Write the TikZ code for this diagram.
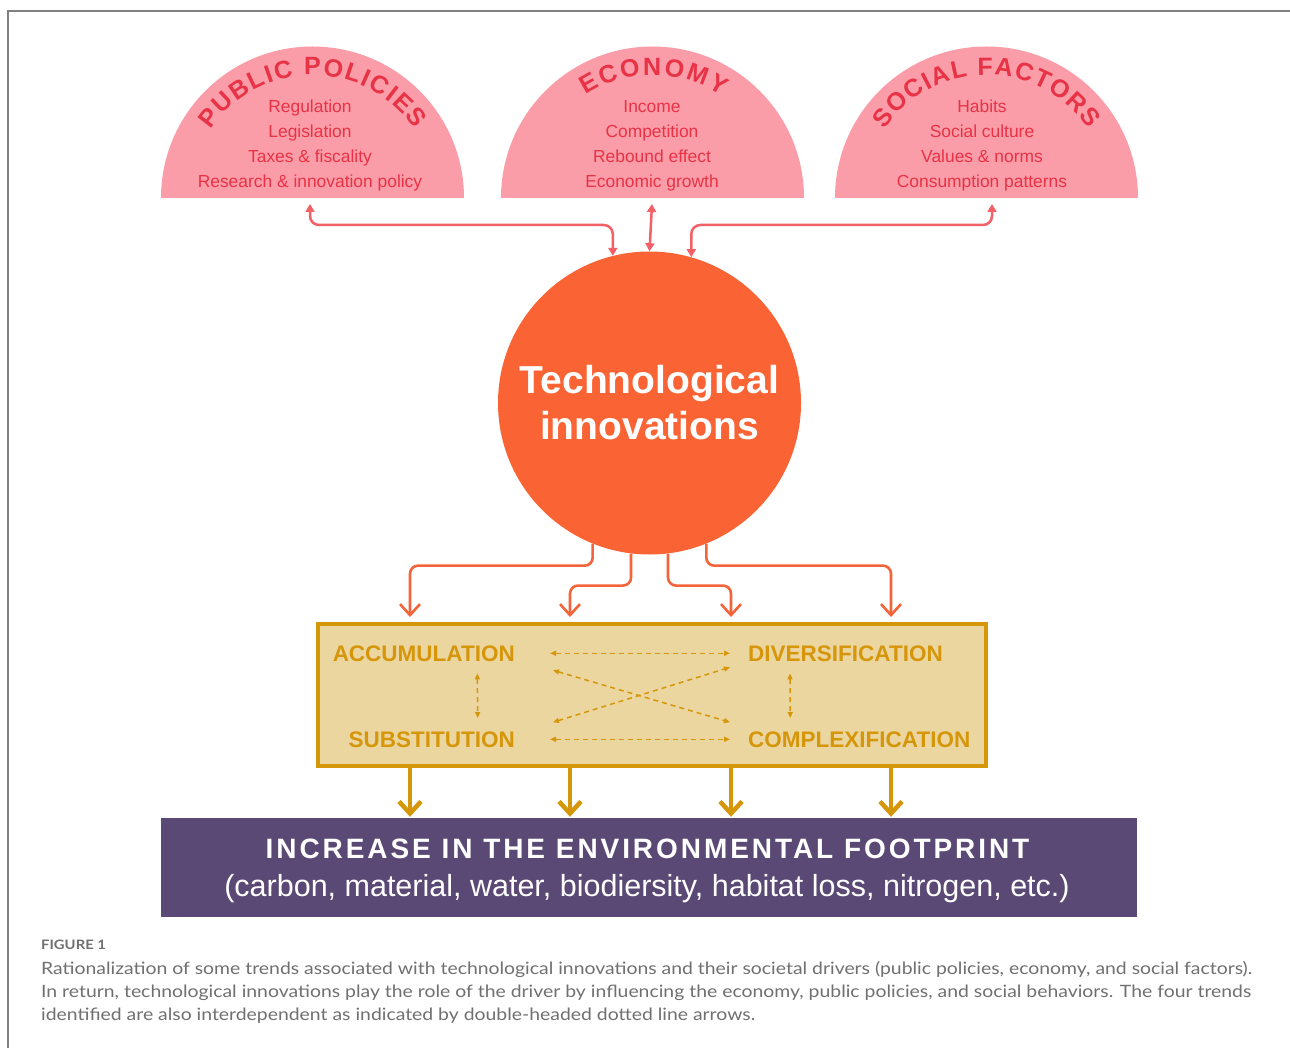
\documentclass[tikz,border=0pt]{standalone}
\usepackage{fontspec}
\setmainfont{Liberation Sans}
\newfontfamily\capfont[FakeStretch=1.14]{Lato}
\newfontfamily\spacedfont[LetterSpace=10.5]{Liberation Sans}
\usetikzlibrary{arrows.meta, decorations.text, calc}

\definecolor{pinkfill}{RGB}{251,157,168}
\definecolor{pinktext}{RGB}{232,50,70}
\definecolor{linkred}{RGB}{242,96,104}
\definecolor{techorange}{RGB}{250,100,52}
\definecolor{flowor}{RGB}{243,100,58}
\definecolor{trendfill}{RGB}{236,214,160}
\definecolor{trendgold}{RGB}{214,150,10}
\definecolor{footpurple}{RGB}{91,73,117}
\definecolor{capgray}{RGB}{112,112,112}
\definecolor{framegray}{RGB}{128,128,128}

\newcommand\itemfont{\fontsize{17.4}{25}\selectfont}
\newcommand\arcfont{\fontsize{25}{25}\selectfont\bfseries}

\begin{document}
\begin{tikzpicture}[x=1pt,y=1pt,
  item/.style={text=pinktext, font=\itemfont, anchor=base, inner sep=0},
  toplink/.style={draw=linkred, line width=2.5pt, rounded corners=9pt,
    {Triangle[length=8pt,width=9pt]}-{Triangle[length=8pt,width=9pt]}},
  flow/.style={draw=flowor, line width=2.6pt, rounded corners=8pt,
    -{Straight Barb[length=11pt,width=20pt]}},
  trendlabel/.style={text=trendgold, font=\fontsize{22.5}{22.5}\selectfont\bfseries, inner sep=0},
  tie/.style={draw=trendgold, line width=1.5pt, dash pattern=on 5pt off 4pt,
    {Triangle[length=6pt,width=5pt]}-{Triangle[length=6pt,width=5pt]}},
  sink/.style={draw=trendgold, line width=4.5pt,
    -{Straight Barb[length=12pt,width=22pt]}, shorten >=1pt},
  captext/.style={anchor=base west, inner sep=0, text=capgray,
    font=\capfont\fontsize{17}{17}\selectfont},
]
\useasboundingbox (0,0) rectangle (1290,-1048);
\fill[white] (0,0) rectangle (1290,-1048);

% frame
\draw[framegray, line width=1.5pt] (8,-1048) -- (8,-11) -- (1290,-11);

% the three societal drivers
\fill[pinkfill] (161,-198) arc[start angle=180, end angle=0, radius=151.5] -- cycle;
\fill[pinkfill] (501,-198) arc[start angle=180, end angle=0, radius=151.5] -- cycle;
\fill[pinkfill] (835,-198) arc[start angle=180, end angle=0, radius=151.5] -- cycle;

\path[decorate, decoration={text along path,
    text={|\arcfont\color{pinktext}|PUBLIC POLICIES}, text align={fit to path}}]
  (312.5,-198) ++(146:123) arc[start angle=146, end angle=34, radius=123];
\path[decorate, decoration={text along path,
    text={|\arcfont\color{pinktext}|ECONOMY}, text align={fit to path}}]
  (652.5,-198) ++(123:123) arc[start angle=123, end angle=56, radius=123];
\path[decorate, decoration={text along path,
    text={|\arcfont\color{pinktext}|SOCIAL FACTORS}, text align={fit to path}}]
  (986.5,-198) ++(146:123) arc[start angle=146, end angle=34, radius=123];

\node[item] (pp1) at (310,-113) {Regulation};
\node[item] (pp2) at (310,-138) {Legislation};
\node[item] (pp3) at (310,-163) {Taxes \& fiscality};
\node[item] (pp4) at (310,-188) {Research \& innovation policy};

\node[item] (ec1) at (652,-113) {Income};
\node[item] (ec2) at (652,-138) {Competition};
\node[item] (ec3) at (652,-163) {Rebound effect};
\node[item] (ec4) at (652,-188) {Economic growth};

\node[item] (sf1) at (982,-113) {Habits};
\node[item] (sf2) at (982,-138) {Social culture};
\node[item] (sf3) at (982,-163) {Values \& norms};
\node[item] (sf4) at (982,-188) {Consumption patterns};

\coordinate (ppport) at (310,-204);
\coordinate (ecport) at (652,-204);
\coordinate (sfport) at (992,-204);

% central node
\node[circle, fill=techorange, minimum size=303pt, inner sep=0, text=white,
  font=\fontsize{39}{46}\selectfont\bfseries, align=center]
  (tech) at (649.5,-403) {Technological\\innovations};

% mutual influence with the drivers
\draw[toplink] (ppport) -- ++(0,-21) -| (tech.104.3);
\draw[toplink] (ecport) -- (tech.north);
\draw[toplink] (sfport) -- ++(0,-21) -| (tech.74.5);

% trends
\node[draw=trendgold, fill=trendfill, line width=4pt, minimum width=668pt,
  minimum height=142pt, inner sep=0] (trend) at (652,-695) {};

\coordinate (k1) at (410,-617);
\coordinate (k2) at (570,-617);
\coordinate (k3) at (731,-617);
\coordinate (k4) at (891,-617);

\draw[flow] (tech.248.1) -- ++(0,-22) -| (k1);
\draw[flow] (tech.263) -- ++(0,-32) -| (k2);
\draw[flow] (tech.277) -- ++(0,-32) -| (k3);
\draw[flow] (tech.292.3) -- ++(0,-22) -| (k4);

\node[trendlabel, anchor=base east] (acc) at (515,-661) {ACCUMULATION};
\node[trendlabel, anchor=base east] (sub) at (515,-747) {SUBSTITUTION};
\node[trendlabel, anchor=base west] (div) at (748,-661) {DIVERSIFICATION};
\node[trendlabel, anchor=base west] (cpx) at (748,-747) {COMPLEXIFICATION};

\draw[tie] ([xshift=35pt]acc.east) -- ([xshift=-18pt]div.west);
\draw[tie] ([xshift=35pt]sub.east) -- ([xshift=-18pt]cpx.west);
\draw[tie] ([xshift=38pt,yshift=-17pt]acc.east) -- ([xshift=-18pt,yshift=17pt]cpx.west);
\draw[tie] ([xshift=38pt,yshift=17pt]sub.east) -- ([xshift=-18pt,yshift=-14pt]div.west);
\draw[tie] ([xshift=53.5pt,yshift=-12pt]acc.south) -- ([xshift=46pt,yshift=13pt]sub.north);
\draw[tie] ([xshift=-55.5pt,yshift=-12pt]div.south) -- ([xshift=-69pt,yshift=13pt]cpx.north);

% footprint
\node[fill=footpurple, minimum width=976pt, minimum height=99pt, inner sep=0]
  (foot) at (649,-867.5) {};
\node[anchor=base, inner sep=0, text=white,
  font=\spacedfont\fontsize{28}{28}\selectfont\bfseries] (foothead) at (647.5,-858)
  {INCREASE IN THE ENVIRONMENTAL FOOTPRINT};
\node[anchor=base, inner sep=0, text=white, font=\fontsize{30.5}{30.5}\selectfont]
  (footsub) at (647,-896)
  {(carbon, material, water, biodiersity, habitat loss, nitrogen, etc.)};

\draw[sink] (trend.south -| k1) -- (foot.north -| k1);
\draw[sink] (trend.south -| k2) -- (foot.north -| k2);
\draw[sink] (trend.south -| k3) -- (foot.north -| k3);
\draw[sink] (trend.south -| k4) -- (foot.north -| k4);

% caption
\node[anchor=base west, inner sep=0, text=capgray,
  font=\capfont\fontsize{13}{13}\selectfont\bfseries] (fig) at (41,-949) {FIGURE 1};
\node[captext] (cap1) at (41,-974) {Rationalization of some trends associated with technological innovations and their societal drivers (public policies, economy, and social factors).};
\node[captext] (cap2) at (41,-997) {In return, technological innovations play the role of the driver by influencing the economy, public policies, and social behaviors. The four trends};
\node[captext] (cap3) at (41,-1020) {identified are also interdependent as indicated by double-headed dotted line arrows.};
\end{tikzpicture}
\end{document}
